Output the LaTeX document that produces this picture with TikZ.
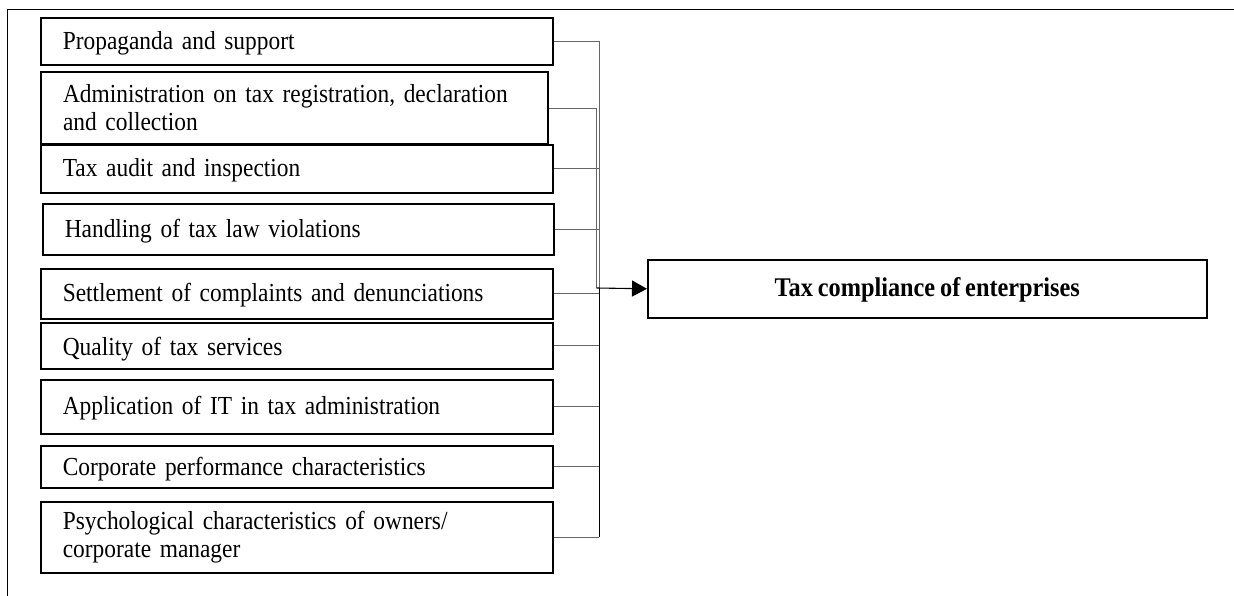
\documentclass[tikz,border=0pt]{standalone}
\usepackage{fontspec}
\setmainfont{Liberation Serif}[FakeStretch=0.9, WordSpace={0.72,0,0}, BoldFeatures={FakeStretch=0.9, WordSpace={0.8,0,0}}]
\usetikzlibrary{arrows.meta}
\begin{document}
\begin{tikzpicture}[x=1pt,y=-1pt,
  fbox/.style={draw=black, line width=1.6pt, rectangle, anchor=north west,
    inner xsep=22pt, inner ysep=0pt, align=left,
    font=\fontsize{26}{28}\selectfont},
  one/.style={text height=22pt, text depth=6pt},
  tbox/.style={draw=black, line width=1.6pt, rectangle, anchor=north west,
    inner sep=0pt, align=center, font=\fontsize{27}{28}\selectfont\bfseries,
    text height=22pt, text depth=6pt},
  conn/.style={draw=black!60, line width=0.9pt},
  frame/.style={draw=black, line width=0.9pt},
  arr/.style={draw=black, line width=1.1pt, -{Triangle[length=15pt,width=16pt]}}
]
\useasboundingbox (0,0) rectangle (1234,596);
% page frame
\coordinate (fTL) at (7.5,9);
\coordinate (fTR) at (1234,9);
\coordinate (fBL) at (7.5,596);
\draw[frame] (fTR) -- (fTL) -- (fBL);

% factor boxes
\node[fbox, one, minimum width=512pt, text width=468pt, minimum height=47pt] (b1) at (40,17) {Propaganda and support};
\node[fbox, minimum width=507pt, text width=463pt, minimum height=72pt, line width=2pt] (b2) at (40,71) {Administration on tax registration, declaration\\and collection};
\node[fbox, one, minimum width=512pt, text width=468pt, minimum height=48pt] (b3) at (40,144) {Tax audit and inspection};
\node[fbox, one, minimum width=511pt, text width=467pt, minimum height=51pt] (b4) at (42,203) {Handling of tax law violations};
\node[fbox, one, minimum width=512pt, text width=468pt, minimum height=50pt] (b5) at (40,268) {Settlement of complaints and denunciations};
\node[fbox, one, text height=25pt, minimum width=512pt, text width=468pt, minimum height=46pt] (b6) at (40,322) {Quality of tax services};
\node[fbox, one, minimum width=512pt, text width=468pt, minimum height=54pt] (b7) at (40,379) {Application of IT in tax administration};
\node[fbox, one, text height=24pt, minimum width=512pt, text width=468pt, minimum height=42pt] (b8) at (40,445) {Corporate performance characteristics};
\node[fbox, minimum width=512pt, text width=468pt, minimum height=71pt] (b9) at (40,501) {Psychological characteristics of owners/\\corporate manager};

% target
\node[tbox, minimum width=559pt, minimum height=58pt] (t) at (647,259) {Tax compliance of enterprises};

% bus coordinates
\coordinate (busR) at (599,0);
\coordinate (busL) at (596.5,0);
\coordinate (j) at (596.5,288);

% connectors to right bus
\foreach \b in {b1,b3,b4,b5,b6,b7,b8,b9}{
  \draw[conn] (\b.east) -- (\b.east -| busR);
}
\draw[conn] (b1.east -| busR) -- (j -| busR);
\draw[draw=black, line width=0.9pt] (j -| busR) -- (b9.east -| busR);
% box 2 to left bus
\draw[conn] (b2.east) -- (b2.east -| busL) -- (j);
% arrow
\draw[arr] (j) -- (t.west);
\end{tikzpicture}
\end{document}
